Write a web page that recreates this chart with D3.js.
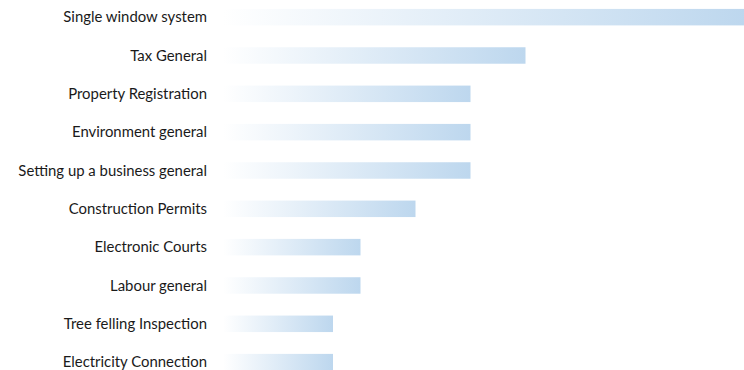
<!DOCTYPE html>
<html><head><meta charset="utf-8">
<script src="https://cdn.jsdelivr.net/npm/d3@7"></script>
<style>html,body{margin:0;padding:0;background:#fff;overflow:hidden}</style>
</head><body>
<svg id="c" width="744" height="370"></svg>
<script>
const categories = ["Single window system","Tax General","Property Registration","Environment general","Setting up a business general","Construction Permits","Electronic Courts","Labour general","Tree felling Inspection","Electricity Connection"];
const values = [19, 11, 9, 9, 9, 7, 5, 5, 4, 4];

const svg = d3.select("#c");
const x = d3.scaleLinear().domain([0, 20]).range([223, 773]);
const y = d3.scaleBand().domain(categories).range([-2, 381.3]).paddingInner(0.57).paddingOuter(0.285);

const defs = svg.append("defs");
const g = defs.append("linearGradient").attr("id","grad").attr("x1","0%").attr("x2","100%").attr("y1","0%").attr("y2","0%");
g.append("stop").attr("offset","0%").attr("stop-color","#ffffff");
g.append("stop").attr("offset","100%").attr("stop-color","#bdd7ee");

svg.selectAll("rect.bar").data(categories).join("rect")
  .attr("class","bar")
  .attr("x", x(0))
  .attr("y", d => y(d))
  .attr("width", (d,i) => x(values[i]) - x(0))
  .attr("height", y.bandwidth())
  .attr("fill","url(#grad)");

svg.selectAll("text.lab").data(categories).join("text")
  .attr("class","lab")
  .attr("x", 207)
  .attr("y", d => y(d) + y.bandwidth()/2)
  .attr("dy","0.35em")
  .attr("text-anchor","end")
  .attr("font-family","Lato, 'Open Sans', sans-serif")
  .attr("font-size", 14.9)
  .attr("fill","#1a1a1a")
  .text(d => d);
</script>
</body></html>
